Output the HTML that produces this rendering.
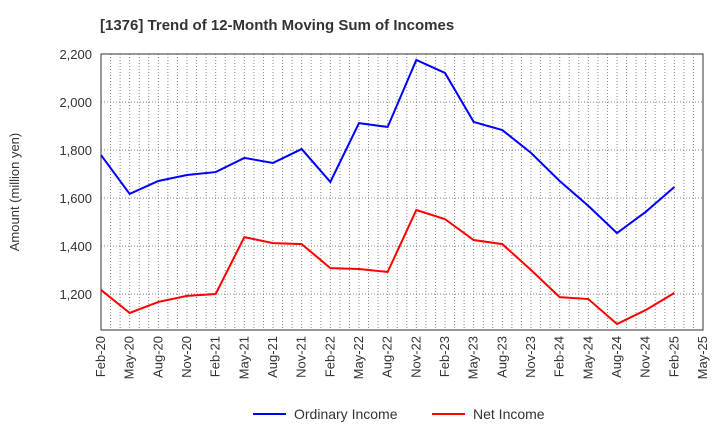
<!DOCTYPE html>
<html><head><meta charset="utf-8"><style>
body{margin:0;background:#fff;font-family:"Liberation Sans",Arial,sans-serif}
svg text{font-family:"Liberation Sans",Arial,sans-serif}
</style></head><body>
<svg id="chart" width="720" height="440" xmlns="http://www.w3.org/2000/svg">
<text x="100" y="30" font-size="15" font-weight="bold" fill="#333">[1376]  Trend of 12-Month Moving Sum of Incomes</text>
<text transform="translate(19,192) rotate(-90)" text-anchor="middle" font-size="13" fill="#333">Amount (million yen)</text>
<g id="grid"></g><g id="axes"></g><g id="series"></g>
<g>
<line x1="253" y1="414" x2="286" y2="414" stroke="#0000ff" stroke-width="2"/>
<text x="294" y="419" font-size="14" fill="#333">Ordinary Income</text>
<line x1="432" y1="414" x2="465" y2="414" stroke="#ff0000" stroke-width="2"/>
<text x="473" y="419" font-size="14" fill="#333">Net Income</text>
</g>
</svg>
<script>
const categories=["Feb-20","May-20","Aug-20","Nov-20","Feb-21","May-21","Aug-21","Nov-21","Feb-22","May-22","Aug-22","Nov-22","Feb-23","May-23","Aug-23","Nov-23","Feb-24","May-24","Aug-24","Nov-24","Feb-25","May-25"];
const ordinaryIncome=[1779,1617,1671,1696,1708,1767,1746,1804,1667,1912,1896,2175,2121,1917,1883,1788,1671,1567,1454,1542,1646];
const netIncome=[1217,1121,1167,1192,1200,1437,1412,1408,1308,1304,1292,1550,1512,1425,1408,1300,1187,1179,1075,1133,1204];
const yTicks=[1200,1400,1600,1800,2000,2200];
const L=101,R=703,T=54,B=330,yMin=1050,yMax=2200;
const NS="http://www.w3.org/2000/svg";
const step=(R-L)/21;
function xs(i){return L+i*step;}
function ys(v){return B-(v-yMin)/(yMax-yMin)*(B-T);}
function mk(tag,attrs,parent){const e=document.createElementNS(NS,tag);for(const k in attrs)e.setAttribute(k,attrs[k]);parent.appendChild(e);return e;}
const grid=document.getElementById('grid'),axes=document.getElementById('axes'),ser=document.getElementById('series');
for(let m=1;m<63;m++){const x=L+m*step/3;const g=mk('line',{x1:x,y1:T,x2:x,y2:B,stroke:'#888','stroke-width':1,'stroke-dasharray':'1,2'},grid);

}
yTicks.forEach(v=>{const y=ys(v);const g=mk('line',{x1:L,y1:y,x2:R,y2:y,stroke:'#888','stroke-width':1,'stroke-dasharray':'1,2'},grid);


const t=mk('text',{x:L-9,y:y+5,'text-anchor':'end','font-size':13,fill:'#333'},axes);t.textContent=v.toLocaleString('en-US');

});
const fr=mk('rect',{x:L,y:T,width:R-L,height:B-T,fill:'none',stroke:'#333','stroke-width':1},axes);


categories.forEach((c,i)=>{const x=xs(i);const t=mk('text',{transform:`translate(${x+4},${B+6}) rotate(-90)`,'text-anchor':'end','font-size':13,fill:'#333'},axes);t.textContent=c;

});
function line(data,color,name){const p=mk('polyline',{points:data.map((v,i)=>xs(i)+','+ys(v)).join(' '),fill:'none',stroke:color,'stroke-width':2},ser);

}
line(ordinaryIncome,'#0000ff','ordinary-income-line');
line(netIncome,'#ff0000','net-income-line');
</script>
</body></html>
